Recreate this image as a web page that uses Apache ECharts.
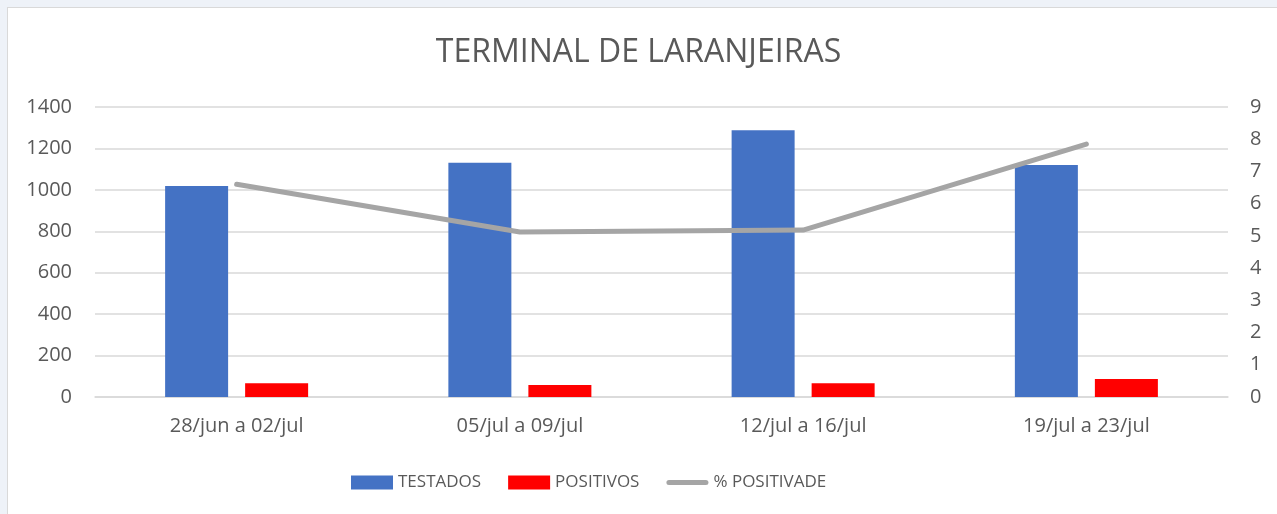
<!DOCTYPE html>
<html>
<head>
<meta charset="utf-8">
<script src="https://cdn.jsdelivr.net/npm/echarts@6/dist/echarts.min.js"></script>
<style>
  html, body { margin: 0; padding: 0; width: 1277px; height: 514px; overflow: hidden; background: #eef2f8; }
  #box { position: absolute; left: 7px; top: 7px; width: 1290px; height: 530px; background: #fff; border: 1px solid #d9d9d9; }
  #chart { position: absolute; left: -8px; top: -8px; width: 1277px; height: 514px; }
</style>
</head>
<body>
<div id="box"><div id="chart"></div></div>
<script>
// dados
const semanas = ["28/jun a 02/jul", "05/jul a 09/jul", "12/jul a 16/jul", "19/jul a 23/jul"];
const testados = [1019, 1131, 1288, 1120];
const positivos = [66, 58, 66, 87];
const positividade = [6.6, 5.12, 5.18, 7.85];

const leftTicks = { min: 0, max: 1400, interval: 200 };
const rightTicks = { min: 0, max: 9, interval: 1 };

const font = "'Open Sans', 'Noto Sans', sans-serif";
const cinza = "#595959";
// ícone de linha arredondada para a legenda
const iconeLinha = "path://M2.5,0 L39.5,0 A2.5,2.5 0 0 1 39.5,5 L2.5,5 A2.5,2.5 0 0 1 2.5,0 Z";

const myChart = echarts.init(document.getElementById("chart"));
const option = {
  animation: false,
  textStyle: { fontFamily: font },
  title: {
    text: "TERMINAL DE LARANJEIRAS",
    left: "center",
    top: 32,
    textStyle: { fontSize: 32, fontWeight: "normal", color: cinza, fontFamily: font },
  },
  legend: {
    bottom: 18,
    left: 346,
    itemWidth: 42,
    itemHeight: 14,
    itemGap: 27,
    textStyle: { fontSize: 17, color: cinza, fontFamily: font },
    data: [
      { name: "TESTADOS", icon: "rect" },
      { name: "POSITIVOS", icon: "rect" },
      { name: "% POSITIVADE", icon: iconeLinha, itemStyle: { color: "#a5a5a5" } },
    ],
  },
  grid: { left: 95, right: 49, top: 107, bottom: 117 },
  xAxis: {
    type: "category",
    data: semanas,
    axisLine: { lineStyle: { color: "#d9d9d9", width: 1.5 } },
    axisTick: { show: false },
    axisLabel: { fontSize: 20, color: cinza, margin: 19, fontFamily: font },
  },
  yAxis: [
    {
      type: "value",
      ...leftTicks,
      splitLine: { lineStyle: { color: "#d9d9d9", width: 1.5 } },
      axisLabel: { fontSize: 20, color: cinza, margin: 23, fontFamily: font, formatter: (v) => String(v) },
    },
    {
      type: "value",
      ...rightTicks,
      splitLine: { show: false },
      axisLabel: { fontSize: 20, color: cinza, margin: 22, fontFamily: font },
    },
  ],
  series: [
    {
      name: "TESTADOS",
      type: "bar",
      data: testados,
      barWidth: 63,
      barGap: "27%",
      itemStyle: { color: "#4472c4" },
    },
    {
      name: "POSITIVOS",
      type: "bar",
      data: positivos,
      barWidth: 63,
      itemStyle: { color: "#ff0000" },
    },
    {
      name: "% POSITIVADE",
      type: "line",
      yAxisIndex: 1,
      data: positividade,
      symbol: "none",
      lineStyle: { color: "#a5a5a5", width: 5, cap: "round", join: "round" },
      itemStyle: { color: "#a5a5a5" },
    },
  ],
};
myChart.setOption(option);
</script>
</body>
</html>
